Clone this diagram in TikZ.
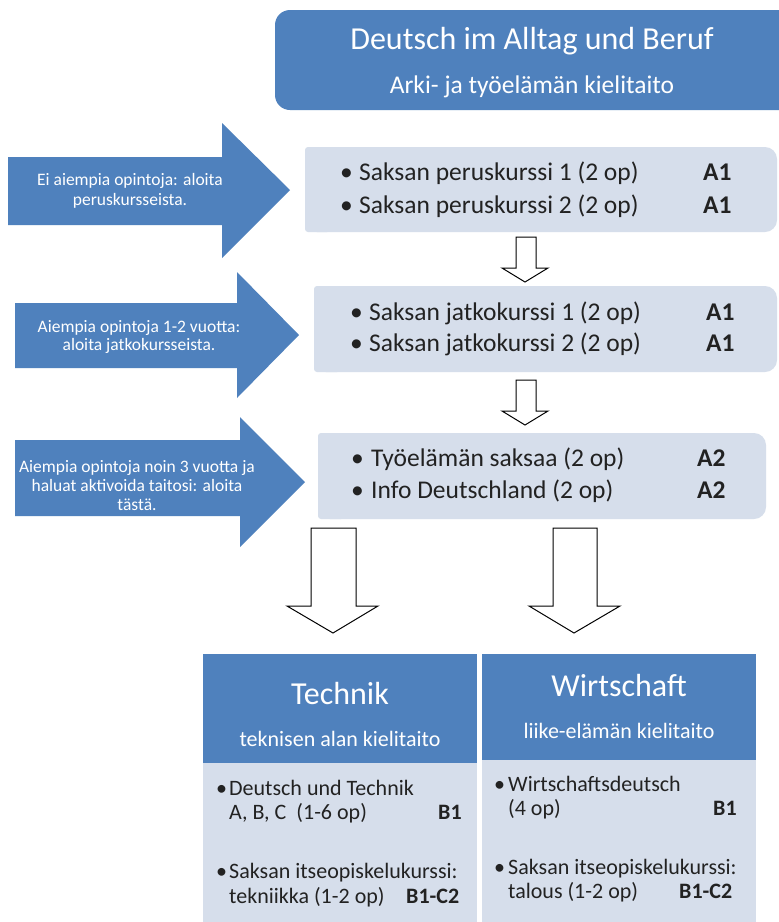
\documentclass[tikz,border=0pt]{standalone}
\usepackage{fontspec}
\setmainfont{Carlito}
\definecolor{blu}{RGB}{79,129,189}
\definecolor{lite}{RGB}{214,222,235}
\definecolor{ink}{RGB}{34,34,34}
\tikzset{
  bluefill/.style={fill=blu, draw=none},
  litefill/.style={fill=lite, draw=none},
  whitetxt/.style={text=white, inner sep=0, anchor=base},
  arrowtxt/.style={text=white, inner sep=0, align=center, font=\fontsize{17.5}{19}\selectfont},
  boxtxt/.style={text=ink, inner sep=0, anchor=base west, font=\fontsize{25.5}{30}\selectfont},
  lvltxt/.style={text=ink, inner sep=0, anchor=base west, font=\bfseries\fontsize{25.5}{30}\selectfont},
  subtxt/.style={text=ink, inner sep=0, anchor=base west, font=\fontsize{22}{26}\selectfont},
  sublvl/.style={text=ink, inner sep=0, anchor=base west, font=\bfseries\fontsize{22}{26}\selectfont},
  outline/.style={draw=black, line width=1, fill=white, line join=miter},
}
\newcommand{\bigbul}{\makebox[19pt][l]{•}}
\newcommand{\smallbul}{\makebox[13pt][l]{•}}
\begin{document}
\begin{tikzpicture}[x=1pt,y=-1pt]
\useasboundingbox (0,0) rectangle (779,922);
\fill[white] (0,0) rectangle (779,922);

% title box
\fill[bluefill, rounded corners=15] (275,10) rectangle (795,110);
\node[whitetxt, font=\fontsize{32}{36}\selectfont] (t1) at (532,49) {Deutsch im Alltag und Beruf};
\node[whitetxt, font=\fontsize{25.5}{30}\selectfont] (t2) at (532,93) {Arki- ja työelämän kielitaito};

% left blue arrows
\fill[bluefill] (8,157) -- (222,157) -- (222,123) -- (290,190) -- (222,258) -- (222,225) -- (8,225) -- cycle;
\node[arrowtxt, font=\fontsize{17.5}{20}\selectfont] (a1) at (130,191) {Ei aiempia opintoja: aloita\\peruskursseista.};
\fill[bluefill] (15,303) -- (237,303) -- (237,272) -- (299,335) -- (237,398) -- (237,368) -- (15,368) -- cycle;
\node[arrowtxt, font=\fontsize{17.5}{18.5}\selectfont] (a2) at (139,337) {Aiempia opintoja 1-2 vuotta:\\aloita jatkokursseista.};
\fill[bluefill] (15,440) -- (240,440) -- (240,417) -- (305,482) -- (240,547) -- (240,516) -- (15,516) -- cycle;
\node[arrowtxt] (a3) at (137,486) {Aiempia opintoja noin 3 vuotta ja\\haluat aktivoida taitosi: aloita\\tästä.};

% light boxes
\fill[litefill, rounded corners=12] (305,147) rectangle (777,232);
\fill[litefill, rounded corners=3] (305,147) rectangle (330,232);
\node[boxtxt] (b1a) at (340,180) {\bigbul Saksan peruskurssi 1 (2 op)};
\node[lvltxt] (b1l) at (703,180) {A1};
\node[boxtxt] (b1b) at (340,213) {\bigbul Saksan peruskurssi 2 (2 op)};
\node[lvltxt] (b1m) at (703,213) {A1};

\fill[litefill, rounded corners=12] (314,286) rectangle (777,372);
\fill[litefill, rounded corners=3] (314,286) rectangle (340,372);
\node[boxtxt] (b2a) at (350,320) {\bigbul Saksan jatkokurssi 1 (2 op)};
\node[lvltxt] (b2l) at (706,320) {A1};
\node[boxtxt] (b2b) at (350,351) {\bigbul Saksan jatkokurssi 2 (2 op)};
\node[lvltxt] (b2m) at (706,351) {A1};

\fill[litefill, rounded corners=12] (318,433) rectangle (766,519);
\fill[litefill, rounded corners=3] (318,433) rectangle (344,519);
\node[boxtxt] (b3a) at (351,466) {\makebox[20pt][l]{•}Työelämän saksaa (2 op)};
\node[lvltxt] (b3l) at (697,466) {A2};
\node[boxtxt] (b3b) at (351,498) {\makebox[20pt][l]{•}Info Deutschland (2 op)};
\node[lvltxt] (b3m) at (697,498) {A2};

% small down arrows
\draw[outline] (516,237) -- (536,237) -- (536,268) -- (548,268) -- (525,282) -- (502,268) -- (516,268) -- cycle;
\draw[outline] (516,380) -- (536,380) -- (536,411) -- (548,411) -- (525,425) -- (502,411) -- (516,411) -- cycle;

% big down arrows
\draw[outline] (311,528) -- (356,528) -- (356,606) -- (378,606) -- (333,633) -- (287,606) -- (311,606) -- cycle;
\draw[outline] (553,528) -- (597,528) -- (597,606) -- (620,606) -- (574,633) -- (529,606) -- (553,606) -- cycle;

% Technik column
\fill[bluefill] (203,654) rectangle (477,763);
\fill[litefill] (203,763) rectangle (477,922);
\node[whitetxt, font=\fontsize{32}{36}\selectfont] (th) at (340,704) {Technik};
\node[whitetxt, font=\fontsize{22}{26}\selectfont] (ts) at (340,746) {teknisen alan kielitaito};
\node[subtxt] (tb1) at (216,795) {\smallbul Deutsch und Technik};
\node[subtxt] (tb2) at (229,819) {A, B, C\hspace{10pt}(1-6 op)};
\node[sublvl] (tl1) at (438,819) {B1};
\node[subtxt] (tb3) at (216,878) {\smallbul Saksan itseopiskelukurssi:};
\node[subtxt] (tb4) at (229,903) {tekniikka (1-2 op)};
\node[sublvl] (tl2) at (406,903) {B1-C2};

% Wirtschaft column
\fill[bluefill] (482,654) rectangle (756,760);
\fill[litefill] (482,760) rectangle (756,922);
\node[whitetxt, font=\fontsize{32}{36}\selectfont] (wh) at (619,696) {Wirtschaft};
\node[whitetxt, font=\fontsize{22}{26}\selectfont] (ws) at (619,738) {liike-elämän kielitaito};
\node[subtxt] (wb1) at (494,791) {\makebox[14pt][l]{•}Wirtschaftsdeutsch};
\node[subtxt] (wb2) at (508,815) {(4 op)};
\node[sublvl] (wl1) at (713,815) {B1};
\node[subtxt] (wb3) at (494,874) {\makebox[14pt][l]{•}Saksan itseopiskelukurssi:};
\node[subtxt] (wb4) at (508,898) {talous (1-2 op)};
\node[sublvl] (wl2) at (679,898) {B1-C2};
\end{tikzpicture}
\end{document}
